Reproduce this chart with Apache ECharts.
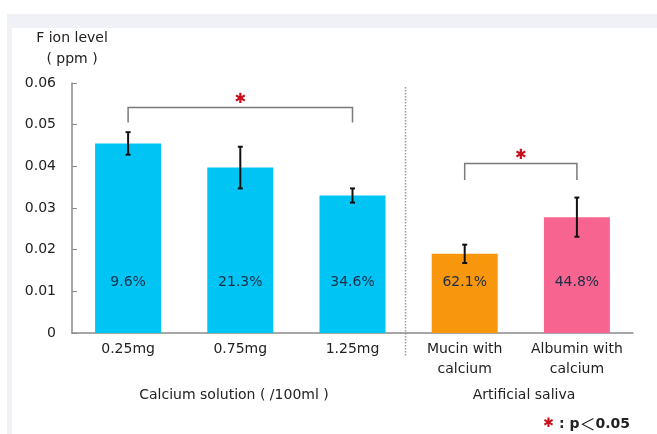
<!DOCTYPE html>
<html>
<head>
<meta charset="utf-8">
<script src="https://cdn.jsdelivr.net/npm/echarts@6/dist/echarts.min.js"></script>
<style>
html,body{margin:0;padding:0;background:#fff;}
#c{width:657px;height:434px;}
</style>
</head>
<body>
<div id="c"></div>
<script>
const categories = ['0.25mg', '0.75mg', '1.25mg', 'Mucin with\ncalcium', 'Albumin with\ncalcium'];
const means = [0.0455, 0.0397, 0.0330, 0.0190, 0.0278];
const errors = [0.0027, 0.0050, 0.0017, 0.0022, 0.0047];
const percentLabels = ['9.6%', '21.3%', '34.6%', '62.1%', '44.8%'];
const barColors = ['#00c4f4', '#00c4f4', '#00c4f4', '#f8960c', '#f7648f'];
// [fromCategory, toCategory, bracketTop, bracketEnd]
const brackets = [[0, 2, 0.0541, 0.0505], [3, 4, 0.0407, 0.0367]];
const groupLabels = ['Calcium solution ( /100ml )', 'Artificial saliva'];
const yAxisName = ['F ion level', '( ppm )'];

const FONT = 'DejaVu Sans';
const chart = echarts.init(document.getElementById('c'), null, {renderer: 'canvas'});

const option = {
  backgroundColor: '#ffffff',
  animation: false,
  textStyle: {fontFamily: FONT},
  grid: {left: 72, right: 24, top: 83, bottom: 101},
  xAxis: {
    type: 'category',
    data: categories,
    axisLine: {lineStyle: {color: '#8a8a8a', width: 1.5}},
    axisTick: {inside: true, length: 4, lineStyle: {color: '#8a8a8a'}},
    axisLabel: {interval: 0, color: '#222', fontSize: 14, lineHeight: 20, margin: 6, fontFamily: FONT}
  },
  yAxis: {
    type: 'value',
    min: 0, max: 0.06, interval: 0.01,
    name: yAxisName.join('\n'),
    nameLocation: 'end',
    nameGap: 13,
    nameTextStyle: {color: '#222', fontSize: 14, lineHeight: 21, align: 'center', fontFamily: FONT},
    axisLine: {show: true, lineStyle: {color: '#8a8a8a', width: 1.5}},
    axisTick: {show: true, inside: true, length: 5, lineStyle: {color: '#8a8a8a'}},
    splitLine: {show: false},
    axisLabel: {color: '#222', fontSize: 14, margin: 16, fontFamily: FONT,
      formatter: v => (v === 0 ? '0' : v.toFixed(2))}
  },
  series: [
    {
      type: 'bar',
      barWidth: 66,
      data: means.map((m, i) => ({value: m, itemStyle: {color: barColors[i]}})),
      label: {
        show: true, position: 'insideBottom', distance: 44,
        color: '#1a2e48', fontSize: 14, fontFamily: FONT,
        formatter: p => percentLabels[p.dataIndex]
      },
      z: 2
    },
    {
      type: 'custom',
      data: means.map((m, i) => [i, m, errors[i]]),
      encode: {x: 0, y: 1},
      renderItem: function (params, api) {
        const x = api.value(0), m = api.value(1), e = api.value(2);
        const top = api.coord([x, m + e]);
        const bot = api.coord([x, m - e]);
        const s = {stroke: '#111', lineWidth: 2};
        return {type: 'group', children: [
          {type: 'line', shape: {x1: top[0], y1: top[1], x2: bot[0], y2: bot[1]}, style: s},
          {type: 'line', shape: {x1: top[0] - 2.5, y1: top[1], x2: top[0] + 2.5, y2: top[1]}, style: s},
          {type: 'line', shape: {x1: bot[0] - 2.5, y1: bot[1], x2: bot[0] + 2.5, y2: bot[1]}, style: s}
        ]};
      },
      z: 5
    },
    {
      type: 'custom',
      data: brackets,
      encode: {x: [0, 1], y: [2, 3]},
      renderItem: function (params, api) {
        const a = api.coord([api.value(0), api.value(2)]);
        const b = api.coord([api.value(1), api.value(2)]);
        const aEnd = api.coord([api.value(0), api.value(3)]);
        return {type: 'group', children: [
          {type: 'polyline', shape: {points: [[a[0], aEnd[1]], [a[0], a[1]], [b[0], b[1]], [b[0], aEnd[1]]]},
            style: {stroke: '#7a7a7a', lineWidth: 1.5, fill: null}},
          {type: 'text', x: (a[0] + b[0]) / 2, y: a[1] - 8,
            style: {text: '✱', fill: '#c8101c', fontSize: 14, fontFamily: 'DejaVu Sans', align: 'center', verticalAlign: 'middle'}}
        ]};
      },
      z: 4
    }
  ],
  graphic: [
    {type: 'rect', shape: {x: 7, y: 14, width: 650, height: 14}, style: {fill: '#f0f1f6'}, silent: true, z: -1},
    {type: 'rect', shape: {x: 7, y: 14, width: 5, height: 420}, style: {fill: '#f0f1f6'}, silent: true, z: -1},
    {type: 'line', shape: {x1: 405.5, y1: 87, x2: 405.5, y2: 357},
      style: {stroke: '#9a9a9a', lineWidth: 1.5, lineDash: [1.5, 1.5]}, silent: true},
    {type: 'text', x: 234, y: 395, style: {text: groupLabels[0], fill: '#222', fontSize: 14, fontFamily: FONT, align: 'center', verticalAlign: 'middle'}},
    {type: 'text', x: 524, y: 395, style: {text: groupLabels[1], fill: '#222', fontSize: 14, fontFamily: FONT, align: 'center', verticalAlign: 'middle'}},
    {type: 'text', x: 630, y: 424, style: {
      text: '{s|✱}{t| : p}{lt|＜}{t|0.05}', align: 'right', verticalAlign: 'middle',
      rich: {
        s: {fill: '#c8101c', fontSize: 13, fontFamily: 'DejaVu Sans'},
        t: {fill: '#222', fontSize: 14, fontWeight: 'bold', fontFamily: FONT},
        lt: {fill: '#222', fontSize: 16, fontFamily: 'Noto Sans CJK JP'}
      }
    }}
  ]
};
chart.setOption(option);
</script>
</body>
</html>
